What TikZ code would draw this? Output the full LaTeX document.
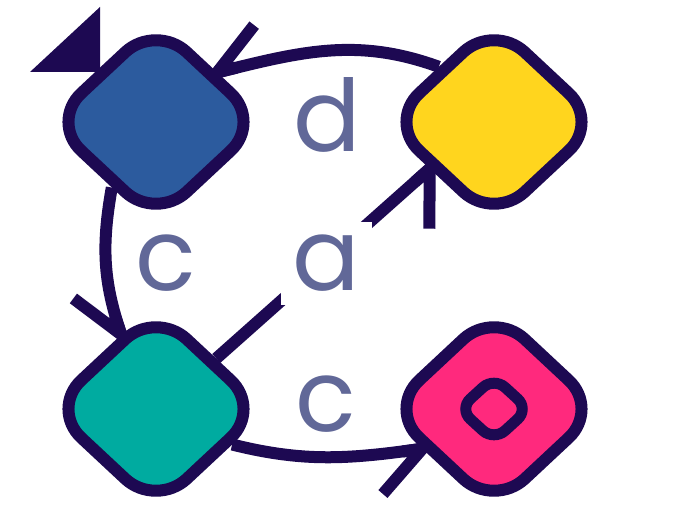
\documentclass[tikz,border=0pt]{standalone}
\usepackage{fontspec}
\setmainfont{Poppins}
\usetikzlibrary{shapes.geometric,decorations.markings}
\definecolor{ink}{RGB}{29,9,82}
\definecolor{cblue}{RGB}{44,91,158}
\definecolor{cyellow}{RGB}{255,213,30}
\definecolor{cteal}{RGB}{0,171,160}
\definecolor{cpink}{RGB}{255,41,125}
\definecolor{ctext}{RGB}{97,104,152}
\pgfdeclarelayer{bg}
\pgfdeclarelayer{paper}
\pgfsetlayers{paper,bg,main}
\tikzset{
  state/.style={diamond, draw=ink, line width=12pt, rounded corners=42pt,
    minimum width=216pt, minimum height=202pt, inner sep=0pt},
  inner/.style={diamond, draw=ink, line width=11pt, rounded corners=15pt,
    minimum width=74pt, minimum height=68pt, inner sep=0pt},
  conn/.style={draw=ink, line width=12pt,
    postaction={decorate, decoration={markings,
      mark=at position 0.9999 with {\draw[ink, line width=12pt, line cap=butt,
        line join=miter, miter limit=10]
        ({-cos(#1)*60pt},{-sin(#1)*60pt}) -- (0pt,0pt) -- (-20pt,0pt);}}}},
  conn/.default=42,
  lbl/.style={text=ctext, font=\fontsize{100}{100}\selectfont, inner sep=0pt},
}
\begin{document}
\begin{tikzpicture}[x=1pt,y=-1pt]
\useasboundingbox (0,0) rectangle (688,516);
\begin{pgfonlayer}{paper}
  \fill[white] (0,0) rectangle (688,516);
\end{pgfonlayer}
\node[state, fill=cblue]   (blue)   at (156,122) {};
\node[state, fill=cyellow] (yellow) at (494,122) {};
\node[state, fill=cteal]   (teal)   at (156,409) {};
\node[state, fill=cpink]   (pink)   at (494,409) {};
\node[inner, fill=cpink]   (pinkin) at (494,409) {};
\node[lbl, anchor=base] (ld) at (327,151) {d};
\node[lbl, anchor=base] (lc1) at (166,290) {c};
\node[lbl, anchor=base] (lc2) at (326,431) {c};
\begin{pgfonlayer}{bg}
  \fill[ink] (100,7) -- (30,72) -- (100,72) -- cycle;
  \draw[conn=38] (yellow.135.5) to[out=160,in=14] (blue.39);
  \draw[conn=34] (blue.236) to[out=260,in=109] (teal.115);
  \draw[conn=48] (teal.40) -- (yellow.216);
  \draw[conn=41] (teal.335) to[out=-14,in=188] (pink.209);
\end{pgfonlayer}
\node[lbl, fill=white, minimum width=91pt, minimum height=83pt] (la) at (326,263) {a};
\end{tikzpicture}
\end{document}
